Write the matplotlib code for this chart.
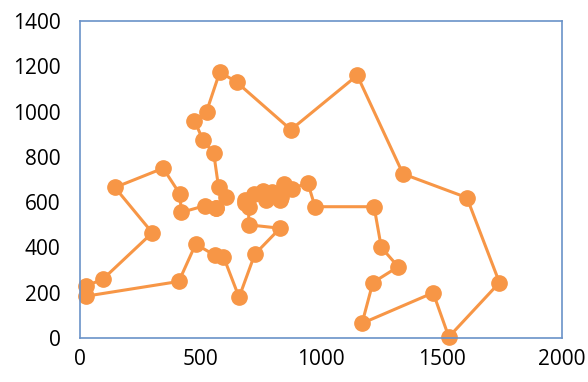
import matplotlib.pyplot as plt

# berlin52 tour, in visiting order (closed back to start)
x = [565, 605, 575, 555, 510, 475, 525, 580, 650, 875, 1150, 1340, 1605, 1740,
     1530, 1465, 1170, 1215, 1320, 1250, 1220, 975, 945, 880, 845, 845, 835, 830,
     795, 770, 760, 720, 685, 685, 700, 700, 830, 725, 660, 595, 560, 480, 410,
     25, 25, 95, 300, 145, 345, 415, 420, 520, 565]
y = [575, 625, 665, 815, 875, 960, 1000, 1175, 1130, 920, 1160, 725, 620, 245,
     5, 200, 65, 245, 315, 400, 580, 580, 685, 660, 680, 655, 625, 610,
     645, 610, 650, 635, 610, 595, 580, 500, 485, 370, 180, 360, 365, 415, 250,
     185, 230, 260, 465, 665, 750, 635, 555, 585, 575]

plt.rcParams['font.family'] = ['Open Sans', 'DejaVu Sans']
fig = plt.figure(figsize=(5.88, 3.82), dpi=100)
ax = fig.add_axes([0.136, 0.115, 0.82, 0.83])
ax.plot(x, y, color='#F79646', lw=2.2, marker='o', ms=11, clip_on=False)
ax.set_xlim(0, 2000)
ax.set_ylim(0, 1400)
ax.set_xticks(range(0, 2001, 500))
ax.set_yticks(range(0, 1401, 200))
for s in ax.spines.values():
    s.set_color('#6A92C8')
    s.set_linewidth(1.2)
ax.tick_params(length=0, labelsize=15, colors='#000000')
ax.tick_params(axis='y', pad=14)
ax.tick_params(axis='x', pad=8)
fig.savefig('out.png')
